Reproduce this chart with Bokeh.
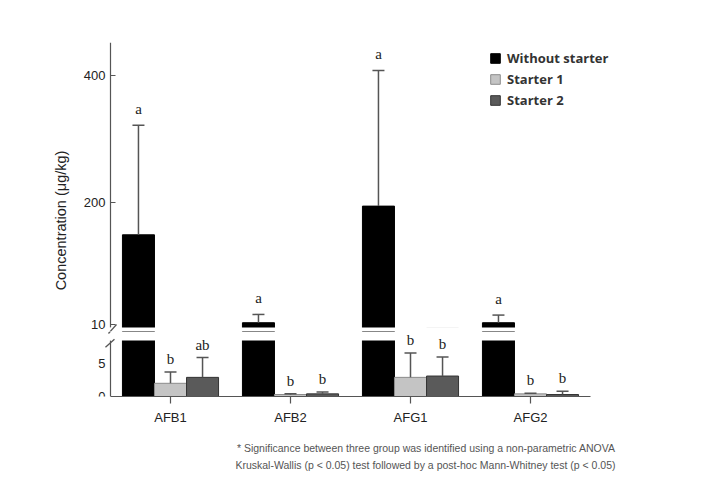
import math
from bokeh.plotting import figure
from bokeh.models import (ColumnDataSource, FactorRange, Range1d, FixedTicker, Label,
                          LabelSet, Legend, LegendItem, Arrow, BoxAnnotation)
from bokeh.transform import dodge
from bokeh.layouts import column
from bokeh.embed import file_html
from bokeh.resources import INLINE
from bokeh.core.properties import value

# ---------------- data ----------------
groups = ["AFB1", "AFB2", "AFG1", "AFG2"]
series = ["Without starter", "Starter 1", "Starter 2"]
without_mean = [150, 12, 195, 12]
without_err = [172, 13, 213, 12]
starter1_mean = [2.0, 0.3, 2.9, 0.4]
starter1_err = [1.7, 0.1, 3.7, 0.1]
starter2_mean = [2.9, 0.4, 3.1, 0.3]
starter2_err = [3.0, 0.3, 2.9, 0.5]
without_letters = ["a", "a", "a", "a"]
starter1_letters = ["b", "b", "b", "b"]
starter2_letters = ["ab", "b", "b", "b"]
upper_ticks = [10, 200, 400]
lower_ticks = [0, 5]
caption_lines = [
    "* Significance between three group was identified using a non-parametric ANOVA",
    "Kruskal-Wallis (p < 0.05) test followed by a post-hoc Mann-Whitney test (p < 0.05)",
]

fills = ["#000000", "#c4c4c4", "#5a5a5a"]
edges = ["#000000", "#8c8c8c", "#333333"]
offsets = [-0.267, 0.0, 0.267]
bar_w = 0.267
BREAK_LOW = 8.5     # top of the lower panel
BREAK_HIGH = 4.5    # bottom of the upper panel
UPPER_MIN = -1.77
UPPER_MAX = 451.8
LOWER_MAX = 9.85


def make_src(mean, err, letters):
    return ColumnDataSource(dict(group=groups, mean=mean,
                                 top=[m + e for m, e in zip(mean, err)],
                                 letter=letters))


sources = [make_src(without_mean, without_err, without_letters),
           make_src(starter1_mean, starter1_err, starter1_letters),
           make_src(starter2_mean, starter2_err, starter2_letters)]

AX = "#555555"
TXT = "#222222"
W = 700


def base_fig(y_range, ticks, height, top, bottom, err_series):
    p = figure(x_range=FactorRange(*groups, range_padding=0.25), y_range=y_range,
               width=W, height=height, min_border_left=50, min_border_right=50,
               min_border_top=top, min_border_bottom=bottom,
               toolbar_location=None, output_backend="svg")
    p.outline_line_color = None
    p.grid.visible = False
    p.background_fill_color = "white"
    p.border_fill_color = "white"
    p.yaxis.fixed_location = 0
    p.yaxis.ticker = FixedTicker(ticks=ticks)
    p.yaxis.minor_tick_line_color = None
    p.yaxis.axis_line_color = AX
    p.yaxis.axis_line_width = 1.2
    p.yaxis.major_tick_line_color = AX
    p.yaxis.major_tick_line_width = 1.2
    p.yaxis.major_label_text_font = "Liberation Sans"
    p.yaxis.major_label_text_font_size = "13px"
    p.yaxis.major_label_text_color = TXT
    p.yaxis.major_label_standoff = 5
    renderers = []
    for i in range(3):
        xd = dodge("group", offsets[i], range=p.x_range)
        r = p.vbar(x=xd, top="mean", bottom=0, width=bar_w, source=sources[i],
                   fill_color=fills[i], line_color=edges[i], line_width=1)
        renderers.append(r)
        if i in err_series:
            p.segment(x0=xd, y0="mean", x1=xd, y1="top", source=sources[i],
                      line_color="#555555", line_width=1.5)
            p.scatter(x=xd, y="top", marker="dash", size=12, source=sources[i],
                      line_color="#555555", line_width=1.5)
    return p, renderers


# ---------------- upper panel ----------------
upper, rend = base_fig(Range1d(UPPER_MIN, UPPER_MAX), upper_ticks, 331, 42, 0, (0,))
upper.xaxis.visible = False
upper.yaxis.bounds = (BREAK_HIGH, UPPER_MAX)
upper.yaxis.major_tick_in = 5
upper.yaxis.major_tick_out = 0
upper.add_layout(BoxAnnotation(top=BREAK_HIGH, left=0, fill_color="white", fill_alpha=1,
                               line_color=None))
upper.add_layout(LabelSet(x=dodge("group", offsets[0], range=upper.x_range), y="top",
                          text="letter", source=sources[0], text_align="center",
                          text_baseline="bottom", y_offset=8,
                          text_font=value("Liberation Serif"), text_font_size="15px",
                          text_color=TXT))
legend = Legend(items=[LegendItem(label=series[i], renderers=[rend[i]]) for i in range(3)],
                location=(439, 222), orientation="vertical")
legend.border_line_color = None
legend.background_fill_alpha = 0
legend.padding = 0
legend.margin = 0
legend.spacing = 3
legend.glyph_width = 12
legend.glyph_height = 12
legend.label_standoff = 6
legend.label_text_font = "Open Sans"
legend.label_text_font_style = "bold"
legend.label_text_font_size = "13px"
legend.label_text_color = "#333333"
upper.add_layout(legend)
upper.add_layout(Label(x=60, y=220, x_units="canvas", y_units="canvas", angle=math.pi / 2,
                       text="Concentration (\u03bcg/kg)", text_align="center",
                       text_baseline="middle", text_font="Liberation Sans",
                       text_font_size="14.5px", text_color=TXT))
upper.add_layout(Arrow(end=None, x_start=-0.017, y_start=-4.9, x_end=0.05, y_end=9.2,
                       line_color=AX, line_width=1.3))

# ---------------- lower panel ----------------
lower, _ = base_fig(Range1d(0, LOWER_MAX), lower_ticks, 96, 0, 30, (1, 2))
lower.yaxis.bounds = (0, BREAK_LOW)
lower.yaxis.major_tick_in = 0
lower.yaxis.major_tick_out = 0
lower.xaxis.bounds = (0, 4.0)
lower.xaxis.axis_line_color = AX
lower.xaxis.axis_line_width = 1.2
lower.xaxis.major_tick_line_color = AX
lower.xaxis.major_tick_line_width = 1.2
lower.xaxis.major_tick_in = 0
lower.xaxis.major_tick_out = 7
lower.xaxis.major_label_text_font = "Liberation Sans"
lower.xaxis.major_label_text_font_size = "13px"
lower.xaxis.major_label_text_color = TXT
lower.xaxis.major_label_standoff = 6
lower.add_layout(BoxAnnotation(bottom=BREAK_LOW, left=0, fill_color="white", fill_alpha=1,
                               line_color=None))
lower.add_layout(Arrow(end=None, x_start=-0.017, y_start=9.55, x_end=0.05, y_end=10.9,
                       line_color=AX, line_width=1.3))
lower.add_layout(Arrow(end=None, x_start=-0.042, y_start=7.46, x_end=0.033, y_end=8.66,
                       line_color=AX, line_width=1.3))
for i in (1, 2):
    lower.add_layout(LabelSet(x=dodge("group", offsets[i], range=lower.x_range), y="top",
                              text="letter", source=sources[i], text_align="center",
                              text_baseline="bottom", y_offset=5,
                              text_font=value("Liberation Serif"), text_font_size="15px",
                              text_color=TXT))

# ---------------- caption ----------------
cap = figure(x_range=Range1d(50, 650), y_range=Range1d(0, 51), width=W, height=51,
             min_border_left=50, min_border_right=50, min_border_top=0, min_border_bottom=0,
             x_axis_location=None, y_axis_location=None,
             toolbar_location=None, output_backend="svg")
cap.outline_line_color = None
cap.grid.visible = False
cap.text(x=[615, 615], y=[31, 14], text=caption_lines, text_align="right",
         text_baseline="middle", text_font=value("Liberation Sans"),
         text_font_size="10.5px", text_color="#555555")

layout = column(upper, lower, cap, spacing=0)
open("out.html", "w").write(file_html(layout, INLINE))
